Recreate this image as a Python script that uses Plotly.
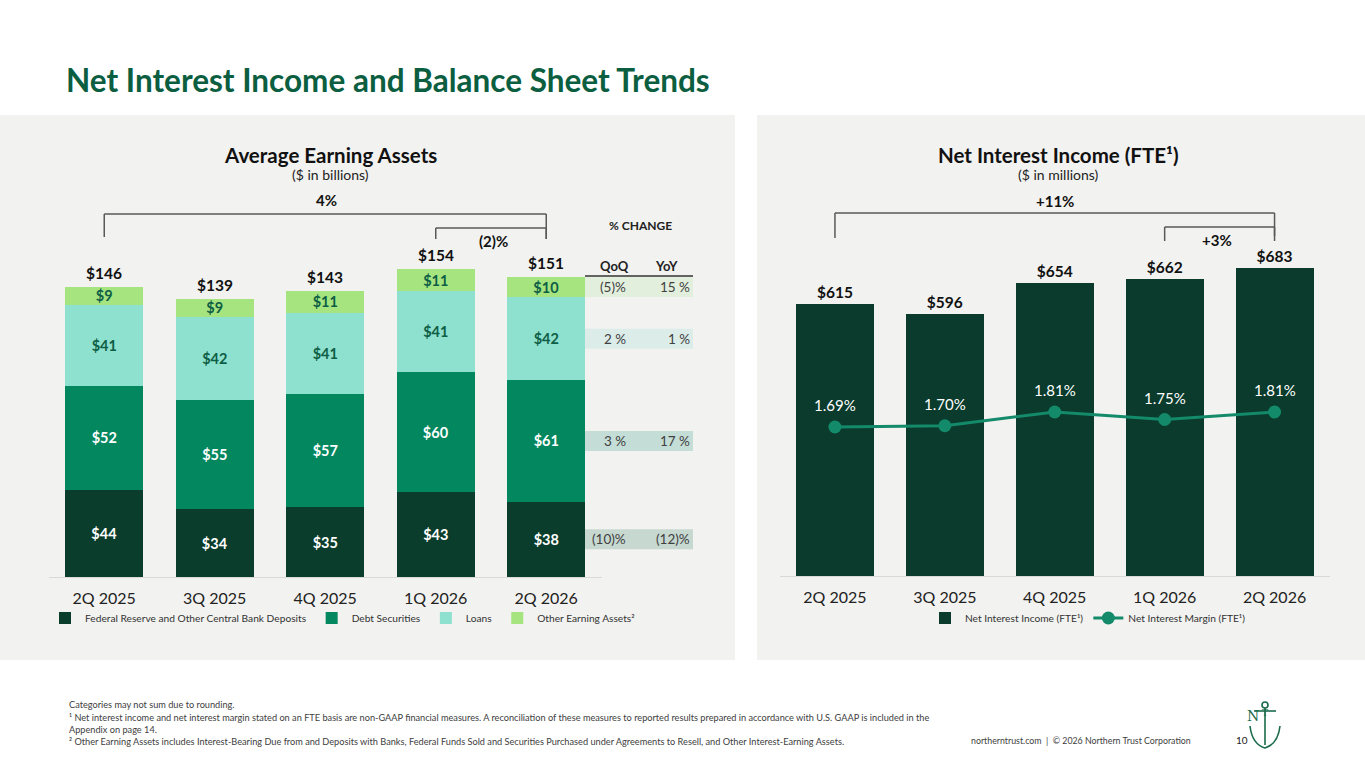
import plotly.graph_objects as go

# ---------------- data ----------------
quarters = ["2Q 2025", "3Q 2025", "4Q 2025", "1Q 2026", "2Q 2026"]
fed_deposits = [44, 34, 35, 43, 38]
debt_securities = [52, 55, 57, 60, 61]
loans = [41, 42, 41, 41, 42]
other_assets = [9, 9, 11, 11, 10]
total_labels = [146, 139, 143, 154, 151]

qoq_change = ["(10)%", "3 %", "2 %", "(5)%"]   # fed, debt, loans, other
yoy_change = ["(12)%", "17 %", "1 %", "15 %"]
row_colors = ["#C6D8D0", "#C4DDD6", "#DCECE9", "#E3EFDD"]

nii = [615, 596, 654, 662, 683]
nim = [1.69, 1.70, 1.81, 1.75, 1.81]

left_change_all = "4%"
left_change_qoq = "(2)%"
right_change_all = "+11%"
right_change_qoq = "+3%"

W, H = 1365, 768
def X(p):
    return p / W
def Y(p):
    return 1 - p / H

FONT = "Lato"
C_FED = "#0A3D2C"
C_DEBT = "#03875F"
C_LOANS = "#8EE0CF"
C_OTHER = "#A6E47F"
C_NII = "#0A3B2C"
C_NIM = "#138A6A"
GREEN_TITLE = "#0B5E40"

fig = go.Figure()

def seg(name, vals, color, txtcolor):
    fig.add_trace(go.Bar(
        x=quarters, y=vals, name=name, marker=dict(color=color, line=dict(width=0)),
        texttemplate="<b>$%{y}</b>", textposition="inside", insidetextanchor="middle",
        textangle=0, textfont=dict(color=txtcolor, size=14.5, family=FONT),
        xaxis="x", yaxis="y", legend="legend", hoverinfo="skip"))

seg("Federal Reserve and Other Central Bank Deposits", fed_deposits, C_FED, "white")
seg("Debt Securities", debt_securities, C_DEBT, "white")
seg("Loans", loans, C_LOANS, "#0E5E45")
seg("Other Earning Assets²", other_assets, C_OTHER, "#0E5E45")

fig.add_trace(go.Bar(
    x=quarters, y=nii, name="Net Interest Income (FTE¹)", marker=dict(color=C_NII, line=dict(width=0)),
    texttemplate="<b>$%{y}</b>", textposition="outside", cliponaxis=False,
    textfont=dict(color="#111111", size=15.5, family=FONT),
    xaxis="x2", yaxis="y2", legend="legend2", hoverinfo="skip"))

fig.add_trace(go.Scatter(
    x=quarters, y=nim, name="Net Interest Margin (FTE¹)", mode="lines+markers",
    line=dict(color=C_NIM, width=3), marker=dict(color=C_NIM, size=13),
    xaxis="x2", yaxis="y3", legend="legend2", hoverinfo="skip", cliponaxis=False))

ann = []
shapes = []

# panel backgrounds
shapes.append(dict(type="rect", xref="paper", yref="paper", x0=X(0), x1=X(735), y0=Y(660), y1=Y(115),
                   fillcolor="#F2F2F0", line=dict(width=0), layer="below"))
shapes.append(dict(type="rect", xref="paper", yref="paper", x0=X(757), x1=X(1365), y0=Y(660), y1=Y(115),
                   fillcolor="#F2F2F0", line=dict(width=0), layer="below"))

# totals above left bars
tops = [a + b + c + d for a, b, c, d in zip(fed_deposits, debt_securities, loans, other_assets)]
for q, t, lbl in zip(quarters, tops, total_labels):
    ann.append(dict(x=q, y=t, xref="x", yref="y", text=f"<b>${lbl}</b>", showarrow=False,
                    yanchor="bottom", yshift=3, font=dict(size=15.5, color="#111111", family=FONT)))

# NIM labels
for q, v in zip(quarters, nim):
    ann.append(dict(x=q, y=v, xref="x2", yref="y3", text=f"{v:.2f}%", showarrow=False,
                    yanchor="middle", yshift=22, font=dict(size=15, color="white", family=FONT)))

# % change table aligned to last bar segments
last = [fed_deposits[-1], debt_securities[-1], loans[-1], other_assets[-1]]
cum = 0
for v, qo, yo, rc in zip(last, qoq_change, yoy_change, row_colors):
    mid = cum + v / 2
    cum += v
    shapes.append(dict(type="rect", xref="paper", yref="y", x0=X(585), x1=X(693),
                       ysizemode="pixel", yanchor=mid, y0=-10, y1=10,
                       fillcolor=rc, line=dict(width=0), layer="below"))
    ann.append(dict(x=X(628), y=mid, xref="paper", yref="y", text=qo, showarrow=False,
                    xanchor="right", font=dict(size=13.5, color="#404040", family=FONT)))
    ann.append(dict(x=X(692), y=mid, xref="paper", yref="y", text=yo, showarrow=False,
                    xanchor="right", font=dict(size=13.5, color="#404040", family=FONT)))

ann.append(dict(x=X(614), y=Y(266), xref="paper", yref="paper", text="<b>QoQ</b>", showarrow=False,
                yanchor="middle", font=dict(size=13, color="#222222", family=FONT)))
ann.append(dict(x=X(666), y=Y(266), xref="paper", yref="paper", text="<b>YoY</b>", showarrow=False,
                yanchor="middle", font=dict(size=13, color="#222222", family=FONT)))
ann.append(dict(x=X(640), y=Y(225), xref="paper", yref="paper", text="<b>% CHANGE</b>", showarrow=False,
                yanchor="middle", font=dict(size=12, color="#222222", family=FONT)))
shapes.append(dict(type="line", xref="paper", yref="paper", x0=X(585), x1=X(693), y0=Y(276), y1=Y(276),
                   line=dict(color="#333333", width=1.5)))

# brackets
BR = dict(color="#595959", width=1.5)
def bracket(xr, xa, xb, ytop, ya_bot, yb_bot):
    shapes.append(dict(type="line", xref=xr, yref="paper", x0=xa, x1=xa, y0=Y(ytop), y1=Y(ya_bot), line=BR))
    shapes.append(dict(type="line", xref=xr, yref="paper", x0=xa, x1=xb, y0=Y(ytop), y1=Y(ytop), line=BR))
    shapes.append(dict(type="line", xref=xr, yref="paper", x0=xb, x1=xb, y0=Y(ytop), y1=Y(yb_bot), line=BR))

bracket("x", quarters[0], quarters[-1], 214, 237, 239)
bracket("x", quarters[3], quarters[-1], 228, 239, 239)
bracket("x2", quarters[0], quarters[-1], 213, 238, 236)
bracket("x2", quarters[3], quarters[-1], 227, 241, 241)

def txt(x, y, s, size, color="#111111", anchor="center"):
    ann.append(dict(x=X(x), y=Y(y), xref="paper", yref="paper", text=s, showarrow=False,
                    xanchor=anchor, yanchor="middle", font=dict(size=size, color=color, family=FONT)))

txt(326, 200, f"<b>{left_change_all}</b>", 15)
txt(493, 241, f"<b>{left_change_qoq}</b>", 15)
txt(1055, 201, f"<b>{right_change_all}</b>", 15)
txt(1217, 240, f"<b>{right_change_qoq}</b>", 15)

# titles
txt(64, 80, "<b>Net Interest Income and Balance Sheet Trends</b>", 31.5, GREEN_TITLE, "left")
txt(330, 155, "<b>Average Earning Assets</b>", 20.5)
txt(330, 174, "($ in billions)", 14, "#222222")
txt(1058, 155, "<b>Net Interest Income (FTE¹)</b>", 20.5)
txt(1058, 174, "($ in millions)", 14, "#222222")

# footnotes
FN = "#404040"
txt(67, 704, "Categories may not sum due to rounding.", 9.2, FN, "left")
txt(67, 717, "¹ Net interest income and net interest margin stated on an FTE basis are non-GAAP financial measures. "
             "A reconciliation of these measures to reported results prepared in accordance with U.S. GAAP is included in the", 9.2, FN, "left")
txt(67, 729, "Appendix on page 14.", 9.2, FN, "left")
txt(67, 741, "² Other Earning Assets includes Interest-Bearing Due from and Deposits with Banks, Federal Funds Sold and "
             "Securities Purchased under Agreements to Resell, and Other Interest-Earning Assets.", 9.2, FN, "left")
txt(1193, 740, "northerntrust.com  |  © 2026 Northern Trust Corporation", 8.8, FN, "right")
txt(1242, 740, "10", 10, "#222222", "center")

# logo (anchor)
LG = dict(color="#1B6B4C", width=1.6)
shapes.append(dict(type="circle", xref="paper", yref="paper", x0=X(1262), x1=X(1268), y0=Y(708), y1=Y(702), line=LG))
shapes.append(dict(type="line", xref="paper", yref="paper", x0=X(1254), x1=X(1276), y0=Y(711), y1=Y(711), line=LG))
shapes.append(dict(type="line", xref="paper", yref="paper", x0=X(1265), x1=X(1265), y0=Y(708), y1=Y(745), line=LG))
shapes.append(dict(type="path", xref="paper", yref="paper",
                   path=f"M {X(1250)},{Y(726)} Q {X(1252)},{Y(744)} {X(1265)},{Y(748)} Q {X(1278)},{Y(744)} {X(1280)},{Y(726)}",
                   line=LG))
ann.append(dict(x=X(1261), y=Y(726), xref="paper", yref="paper", text="N", showarrow=False,
                font=dict(size=14, color="#1B6B4C", family="DejaVu Serif")))
ann.append(dict(x=X(1270), y=Y(720), xref="paper", yref="paper", text="T", showarrow=False,
                font=dict(size=9, color="#1B6B4C", family="DejaVu Serif")))

axis_common = dict(showgrid=False, zeroline=False, ticks="", fixedrange=True)
fig.update_layout(
    width=W, height=H, margin=dict(l=0, r=0, t=0, b=0),
    paper_bgcolor="white", plot_bgcolor="rgba(0,0,0,0)",
    barmode="stack", bargap=0.29,
    font=dict(family=FONT, color="#222222"),
    uniformtext=dict(mode="show", minsize=14.5),
    xaxis=dict(domain=[X(49), X(601.5)], anchor="y", showline=True, linecolor="#D9D9D9", linewidth=1,
               tickfont=dict(size=16, color="#222222", family=FONT), ticklabelstandoff=7, **axis_common),
    yaxis=dict(domain=[Y(577), Y(210)], range=[0, 367 / 1.986], visible=False, anchor="x", **axis_common),
    xaxis2=dict(domain=[X(780), X(1329.5)], anchor="y2", showline=True, linecolor="#D9D9D9", linewidth=1,
                tickfont=dict(size=16, color="#222222", family=FONT), ticklabelstandoff=7, **axis_common),
    yaxis2=dict(domain=[Y(576), Y(210)], range=[100, 100 + 366 / 0.528], visible=False, anchor="x2", **axis_common),
    yaxis3=dict(overlaying="y2", range=[0.498, 0.498 + 366 / 125], visible=False, anchor="x2", **axis_common),
    legend=dict(orientation="h", x=X(45), y=Y(618), xanchor="left", yanchor="middle",
                font=dict(size=10.2, color="#333333", family=FONT), bgcolor="rgba(0,0,0,0)",
                itemwidth=30, traceorder="normal", tracegroupgap=0),
    legend2=dict(orientation="h", x=X(925), y=Y(618), xanchor="left", yanchor="middle",
                 font=dict(size=10.2, color="#333333", family=FONT), bgcolor="rgba(0,0,0,0)",
                 itemwidth=30, traceorder="normal"),
    annotations=ann, shapes=shapes, showlegend=True,
)

fig.write_html("out.html", config={"displayModeBar": False},
               post_script="document.body.style.margin='0';document.body.style.overflow='hidden';")
